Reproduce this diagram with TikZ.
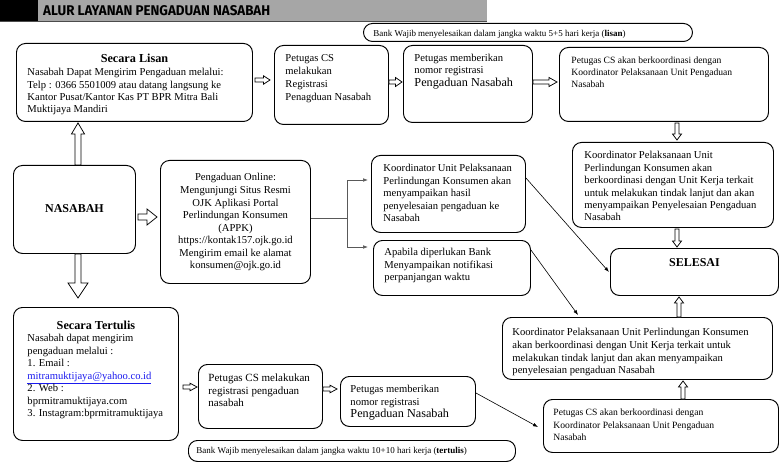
\documentclass[tikz,border=0pt]{standalone}
\usepackage{fontspec}
\usepackage{graphicx}
\setmainfont{Liberation Serif}
\newfontfamily\headfont{Fira Sans}
\usetikzlibrary{calc,arrows.meta}
\definecolor{hdrgray}{HTML}{A6A6A6}
\definecolor{linkblue}{HTML}{1A1AEE}
% width height firstbaseline padleft fontsize baselineskip content
\newcommand{\bxt}[7]{\parbox[t][#2pt][t]{#1pt}{\fontsize{#5}{#6}\selectfont\vspace*{\dimexpr#3pt-0.7\baselineskip\relax}\leftskip=#4pt\relax\rightskip=0pt plus 1fil\relax\parindent=0pt\relax\parfillskip=0pt plus 1fil\relax\leavevmode\strut #7\par}}
\tikzset{
  bx/.style={draw, line width=0.95pt, rounded corners=9pt, inner sep=0pt, anchor=north west},
  blk/.style n args={3}{line width=0.75pt, fill=white, to path={
    ($(\tikztostart)!#1!90:(\tikztotarget)$) --
    ($ ($(\tikztotarget)!#3!(\tikztostart)$) !#1!90:(\tikztotarget) $) --
    ($ ($(\tikztotarget)!#3!(\tikztostart)$) !#2!90:(\tikztotarget) $) --
    (\tikztotarget) --
    ($ ($(\tikztotarget)!#3!(\tikztostart)$) !#2!-90:(\tikztotarget) $) --
    ($ ($(\tikztotarget)!#3!(\tikztostart)$) !#1!-90:(\tikztotarget) $) --
    ($(\tikztostart)!#1!-90:(\tikztotarget)$) -- cycle}},
  thinline/.style={line width=0.9pt, black!65},
  thinarrow/.style={line width=0.6pt, -{Latex[length=5pt,width=3.6pt]}},
}
\begin{document}
\begin{tikzpicture}[x=1pt,y=-1pt]
\useasboundingbox (0,0) rectangle (781,473);
% header
\fill[black] (0,0) rectangle (38,22);
\fill[hdrgray] (38,0) rectangle (487,22);
\draw[line width=0.8pt, black!70] (0,21.6) -- (487,21.6);
\node[anchor=west, inner sep=0pt] (hdr) at (43,11) {\resizebox{227pt}{10pt}{\headfont\bfseries ALUR LAYANAN PENGADUAN NASABAH}};

% boxes
\node[bx] (bankL) at (363,23) {\bxt{329}{18}{13}{10}{9}{11}{Bank Wajib menyelesaikan dalam jangka waktu 5+5 hari kerja (\textbf{lisan})}};
\node[bx] (lisan) at (16,43) {\bxt{236}{78}{19}{11}{10.6}{12.2}{{\centering\fontsize{12.2}{14}\selectfont\bfseries Secara Lisan\par}\vspace{1.3pt}Nasabah Dapat Mengirim Pengaduan melalui:\\Telp : 0366 5501009 atau datang langsung ke\\Kantor Pusat/Kantor Kas PT BPR Mitra Bali\\Muktijaya Mandiri}};
\node[bx] (pcs1) at (274,45) {\bxt{114}{79}{16.5}{11}{10.6}{12.7}{Petugas CS\\melakukan\\Registrasi\\Penagduan Nasabah}};
\node[bx] (pmem1) at (403,45) {\bxt{129}{77}{15.7}{11}{10.6}{12.8}{Petugas memberikan\\nomor registrasi\\{\fontsize{12.2}{13}\selectfont Pengaduan Nasabah}}};
\node[bx] (pcs2) at (559,47) {\bxt{209}{74}{16.5}{12}{9.6}{12}{Petugas CS akan berkoordinasi dengan\\Koordinator Pelaksanaan Unit Pengaduan\\Nasabah}};
\node[bx] (koord1) at (572,142) {\bxt{201}{85}{16.5}{12}{10.6}{12.4}{Koordinator Pelaksanaan Unit\\Perlindungan Konsumen akan\\berkoordinasi dengan Unit Kerja terkait\\untuk melakukan tindak lanjut dan akan\\menyampaikan Penyelesaian Pengaduan\\Nasabah}};
\node[bx] (koordUnit) at (371,155) {\bxt{154}{77}{16.5}{12}{10.6}{12.5}{Koordinator Unit Pelaksanaan\\Perlindungan Konsumen akan\\menyampaikan hasil\\penyelesaian pengaduan ke\\Nasabah}};
\node[bx] (apabila) at (373,240) {\bxt{157}{55}{15.5}{11}{10.6}{12.4}{Apabila diperlukan Bank\\Menyampaikan notifikasi\\perpanjangan waktu}};
\node[bx] (selesai) at (610,248) {\bxt{168}{47}{18.5}{0}{12}{14}{\centering\bfseries SELESAI}};
\node[bx] (nasabah) at (13,165) {\bxt{122}{88}{47}{0}{12}{14}{\centering\bfseries NASABAH}};
\node[bx] (online) at (160,160) {\bxt{150}{123}{20.5}{0}{10.6}{12.57}{\centering Pengaduan Online:\\Mengunjungi Situs Resmi\\OJK Aplikasi Portal\\Perlindungan Konsumen\\(APPK)\\https://kontak157.ojk.go.id\\Mengirim email ke alamat\\konsumen@ojk.go.id}};
\node[bx] (tertulis) at (13,307) {\bxt{165}{133}{22}{14}{10.6}{12.45}{{\centering\fontsize{12.2}{14}\selectfont\bfseries Secara Tertulis\par}Nasabah dapat mengirim\\pengaduan melalui :\\1. Email :\\{\color{linkblue}\underline{mitramuktijaya@yahoo.co.id}}\\2. Web :\\bprmitramuktijaya.com\\3. Instagram:bprmitramuktijaya}};
\node[bx] (pcsT) at (198,364) {\bxt{124}{64}{17.5}{10}{11}{12.2}{Petugas CS melakukan\\registrasi pengaduan\\nasabah}};
\node[bx] (pmemT) at (340,376) {\bxt{135}{50}{16.5}{10}{10.6}{12.3}{Petugas memberikan\\nomor registrasi\\{\fontsize{12.2}{13}\selectfont Pengaduan Nasabah}}};
\node[bx] (bankT) at (188,440) {\bxt{327}{21}{13}{8}{9}{11}{Bank Wajib menyelesaikan dalam jangka waktu 10+10 hari kerja (\textbf{tertulis})}};
\node[bx] (koord2) at (502,317) {\bxt{270}{62}{18.5}{10}{10.6}{12.6}{Koordinator Pelaksanaan Unit Perlindungan Konsumen\\akan berkoordinasi dengan Unit Kerja terkait untuk\\melakukan tindak lanjut dan akan menyampaikan\\penyelesaian pengaduan Nasabah}};
\node[bx] (pcs3) at (543,399) {\bxt{235}{53}{16.5}{10}{9.6}{12.3}{Petugas CS akan berkoordinasi dengan\\Koordinator Pelaksanaan Unit Pengaduan\\Nasabah}};

% hollow block arrows
\draw[blk={2pt}{4.2pt}{6.5pt}] ($(lisan.east|-0,80)+(2,0)$) to ($(pcs1.west|-0,80)+(-4,0)$);
\draw[blk={2pt}{4.5pt}{6.5pt}] (pcs1.east|-0,82) to ($(pmem1.west|-0,82)+(-1,0)$);
\draw[blk={2pt}{4.5pt}{8pt}] (pmem1.east|-0,82) to ($(pcs2.west|-0,82)+(-2,0)$);
\draw[blk={2pt}{4.5pt}{6pt}] ($(pcs2.south-|677,0)+(0,1)$) to ($(koord1.north-|677,0)+(0,-2)$);
\draw[blk={2pt}{4.5pt}{6pt}] ($(koord1.south-|677,0)+(0,1)$) to ($(selesai.north-|677,0)+(0,-1)$);
\draw[blk={2pt}{4.5pt}{6pt}] (koord2.north-|679,0) to ($(selesai.south-|679,0)+(0,1)$);
\draw[blk={2pt}{4.5pt}{6pt}] (pcs3.north-|683,0) to ($(koord2.south-|683,0)+(0,1)$);
\draw[blk={3pt}{6.5pt}{11pt}] (nasabah.north-|78,0) to ($(lisan.south-|78,0)+(0,1)$);
\draw[blk={3pt}{10pt}{15pt}] (nasabah.south-|78,0) to ($(tertulis.north-|78,0)+(0,-9)$);
\draw[blk={3pt}{8pt}{10pt}] ($(nasabah.east|-0,217)+(2,0)$) to ($(online.west|-0,217)+(-3,0)$);
\draw[blk={2pt}{3.8pt}{7pt}] ($(tertulis.east|-0,387)+(4,0)$) to ($(pcsT.west|-0,387)+(-1,0)$);
\draw[blk={2pt}{3.8pt}{7pt}] (pcsT.east|-0,389) to ($(pmemT.west|-0,389)+(-3,0)$);

% thin connectors
\coordinate (jn) at (347,218);
\draw[thinline] (online.east|-jn) -- (jn);
\draw[thinline, thinarrow] (jn) |- ($(koordUnit.west|-0,180)+(-3,0)$);
\draw[thinline, thinarrow] (jn) |- ($(apabila.west|-0,247)+(-5,0)$);
\draw[thinarrow] (koordUnit.east|-0,178) -- ($(selesai.west|-0,272)+(-1,0)$);
\draw[thinarrow] (apabila.east|-0,250) -- ($(koord2.north-|578,0)+(0,-2)$);
\draw[thinarrow] (pmemT.east|-0,393) -- ($(pcs3.west|-0,427)+(-5,0)$);
\end{tikzpicture}
\end{document}
